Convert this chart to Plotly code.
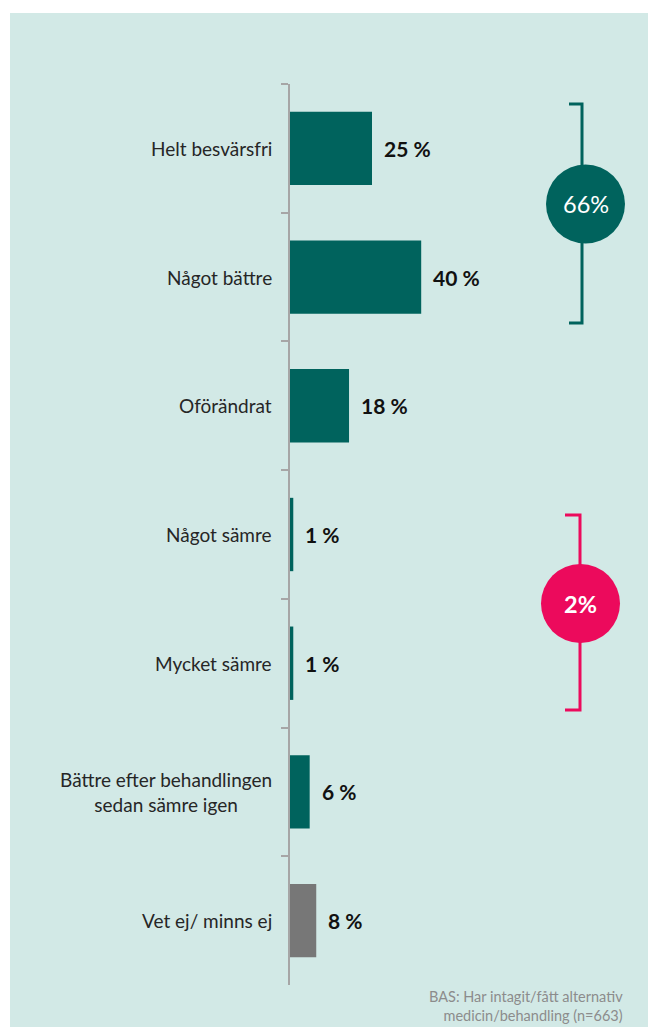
import plotly.graph_objects as go

# ---- data ----
categories = [
    "Helt besvärsfri",
    "Något bättre",
    "Oförändrat",
    "Något sämre",
    "Mycket sämre",
    "Bättre efter behandlingen<br>sedan sämre igen",
    "Vet ej/ minns ej",
]
values = [25, 40, 18, 1, 1, 6, 8]
bar_colors = ["#00635D"] * 6 + ["#777777"]
group_labels = ["66%", "2%"]
footnote = "BAS: Har intagit/fått alternativ<br>medicin/behandling (n=663)"

# ---- layout geometry (pixels) ----
W, H = 648, 1027
L, R, T, B = 290, 8, 84, 42
PW, PH = W - L - R, H - T - B
PX_PER_PCT = 3.28


def px_x(px):
    return (px - L) / PW


def px_y(py):
    return (H - B - py) / PH


TEAL = "#00635D"
PINK = "#EC0A5C"
BG = "#D2E9E6"

fig = go.Figure()
fig.add_trace(go.Bar(
    x=values,
    y=categories,
    orientation="h",
    marker=dict(color=bar_colors, line=dict(width=0)),
    hoverinfo="skip",
))

annotations = []
# category labels (centered multi-line, right anchored)
for c in categories:
    annotations.append(dict(
        x=0, y=c, xref="x", yref="y", text=c, showarrow=False,
        xanchor="right", yanchor="middle", align="center", xshift=-16,
        font=dict(family="Lato", size=19, color="#262626"),
    ))
# value labels
for c, v in zip(categories, values):
    annotations.append(dict(
        x=v, y=c, xref="x", yref="y", text=f"<b>{v} %</b>", showarrow=False,
        xanchor="left", yanchor="middle", xshift=10,
        font=dict(family="Lato", size=21, color="#111111"),
    ))

shapes = []
# panel background
shapes.append(dict(type="rect", xref="paper", yref="paper",
                   x0=px_x(10), x1=px_x(W + 5), y0=px_y(13), y1=px_y(H + 5),
                   fillcolor=BG, line=dict(width=0), layer="below"))

# group brackets + circles
groups = [
    dict(color=TEAL, xline=582, xcap=569, ytop=104, ybot=323, cx=585.5, cy=204, label=group_labels[0], bold=False),
    dict(color=PINK, xline=580, xcap=565, ytop=515, ybot=710, cx=580.5, cy=603.5, label=group_labels[1], bold=True),
]
for g in groups:
    path = (f"M {px_x(g['xcap'])},{px_y(g['ytop'])} L {px_x(g['xline'])},{px_y(g['ytop'])} "
            f"L {px_x(g['xline'])},{px_y(g['ybot'])} L {px_x(g['xcap'])},{px_y(g['ybot'])}")
    shapes.append(dict(type="path", xref="paper", yref="paper", path=path,
                       line=dict(color=g["color"], width=3), layer="above"))
    r = 39.5
    shapes.append(dict(type="circle", xref="paper", yref="paper",
                       x0=px_x(g["cx"] - r), x1=px_x(g["cx"] + r),
                       y0=px_y(g["cy"] + r), y1=px_y(g["cy"] - r),
                       fillcolor=g["color"], line=dict(width=0), layer="above"))
    txt = f"<b>{g['label']}</b>" if g["bold"] else g["label"]
    annotations.append(dict(
        x=px_x(g["cx"]), y=px_y(g["cy"]), xref="paper", yref="paper", text=txt,
        showarrow=False, xanchor="center", yanchor="middle",
        font=dict(family="Lato", size=23.5, color="white"),
    ))

# footnote
annotations.append(dict(
    x=px_x(625), y=px_y(1006), xref="paper", yref="paper", text=footnote,
    showarrow=False, xanchor="right", yanchor="middle", align="right",
    font=dict(family="Lato", size=14.5, color="#8C8C8C"),
))

fig.update_layout(
    width=W, height=H,
    margin=dict(l=L, r=R, t=T, b=B, pad=0),
    paper_bgcolor="white",
    plot_bgcolor=BG,
    bargap=0.43,
    showlegend=False,
    shapes=shapes,
    annotations=annotations,
    xaxis=dict(range=[0, PW / PX_PER_PCT], visible=False, fixedrange=True),
    yaxis=dict(
        categoryorder="array", categoryarray=categories, autorange="reversed",
        showline=True, linecolor="#A6A6A6", linewidth=2,
        ticks="outside", ticklen=7, tickwidth=1.5, tickcolor="#A6A6A6",
        tickson="boundaries", showticklabels=False, showgrid=False,
        zeroline=False, fixedrange=True,
    ),
)

fig.write_html("out.html")
